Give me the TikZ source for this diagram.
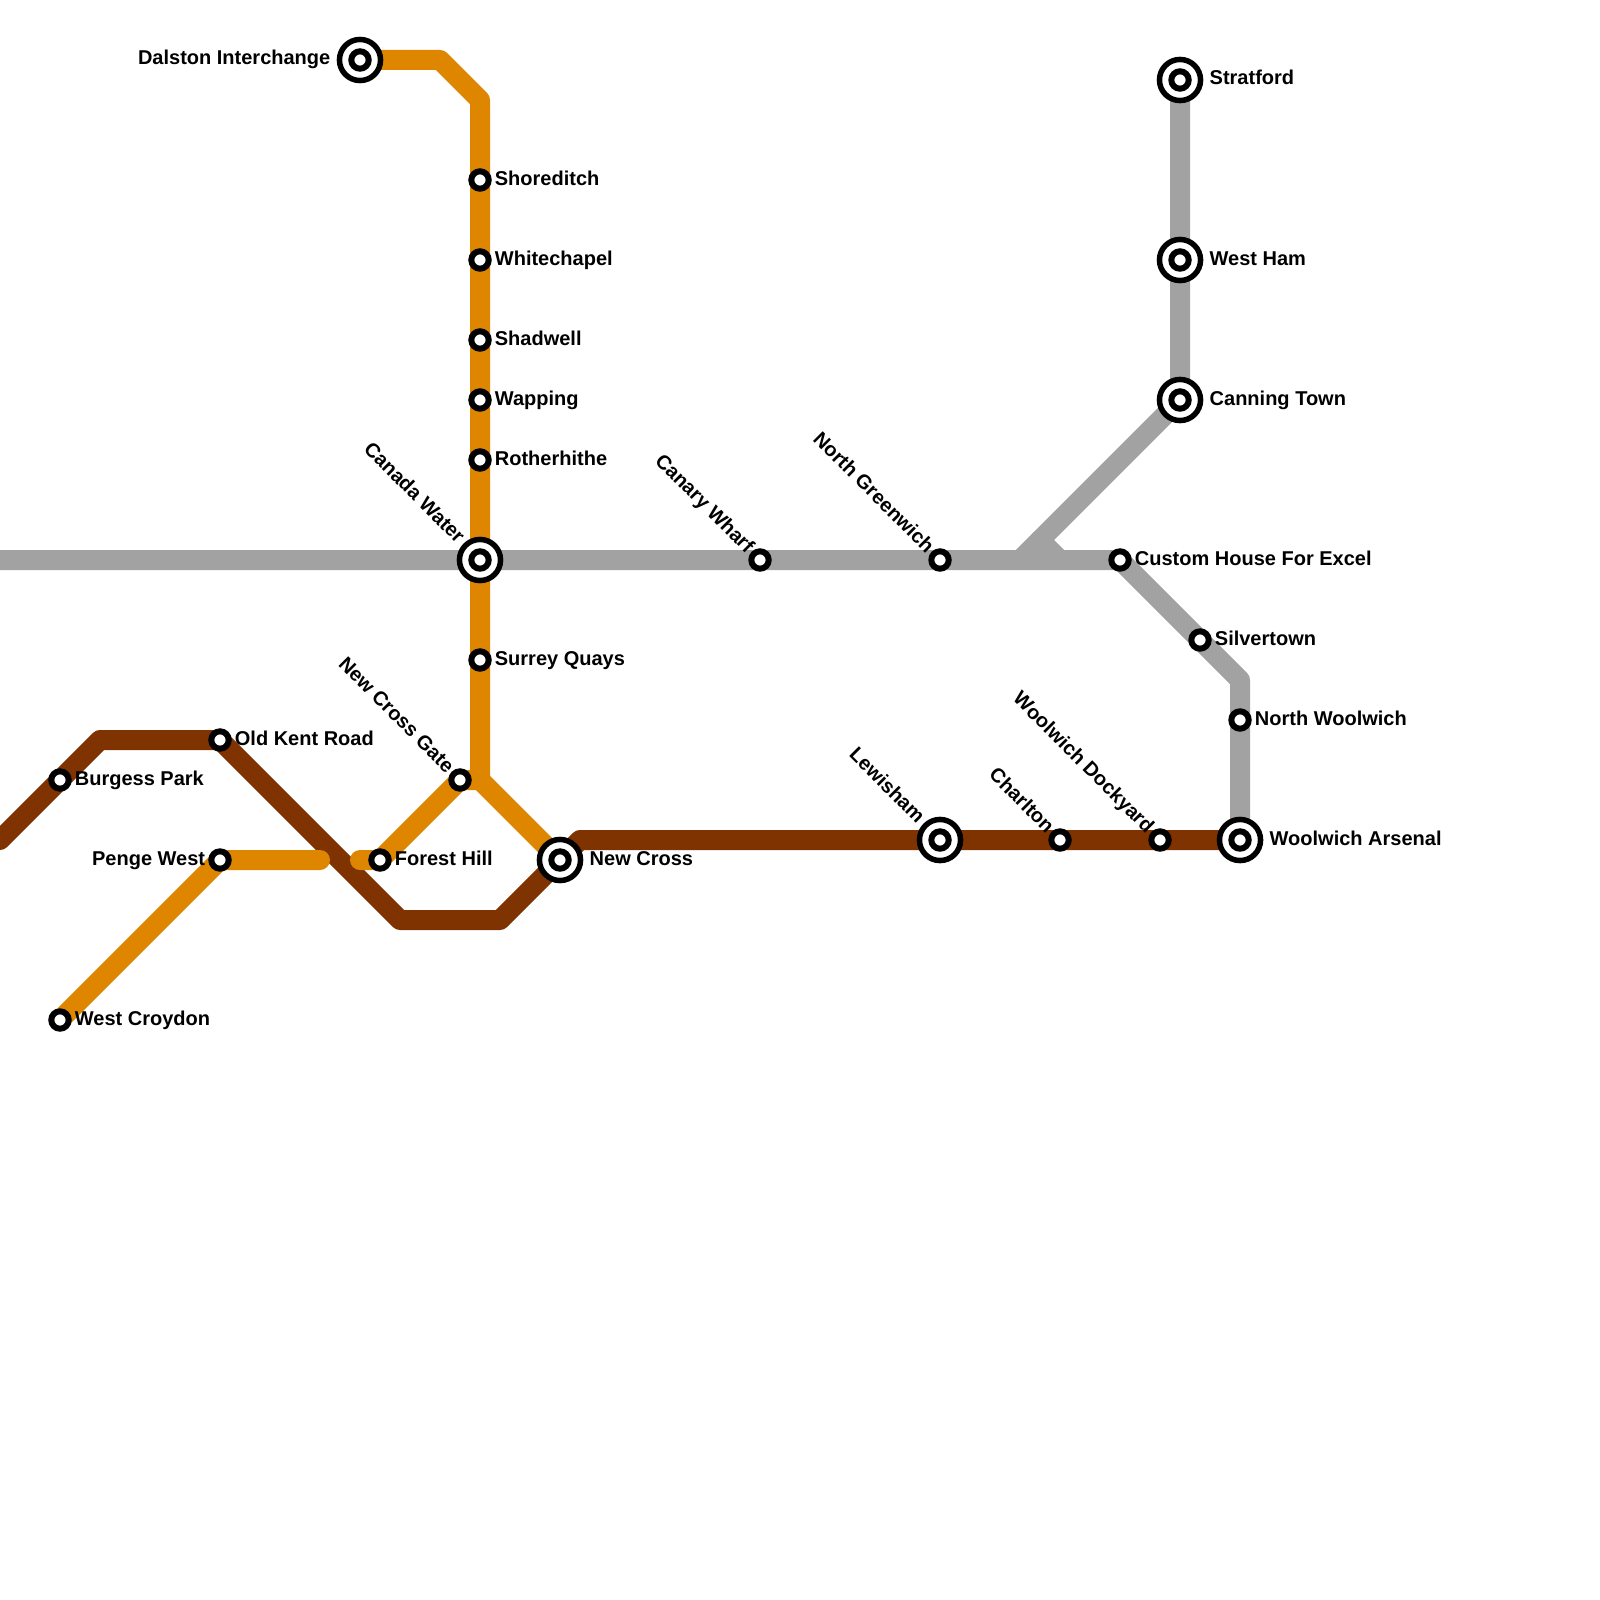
\documentclass[tikz,border=0pt]{standalone}
\usepackage{fontspec}
\setmainfont{Liberation Sans}
\usetikzlibrary{positioning, backgrounds}
\definecolor{lineOrange}{RGB}{223, 134, 0}
\definecolor{lineBrown}{RGB}{126, 51, 0}
\definecolor{lineGrey}{RGB}{162, 162, 162}
\tikzset{
  stn/.style={
    circle, draw=black, fill=white, line width=6pt,
    minimum size=17.4pt, inner sep=0pt
  },
  hub/.style={
    circle, draw=black, fill=white, line width=5.5pt,
    minimum size=41.1pt, inner sep=0pt
  },
  stnlabel/.style={
    inner sep=0pt, font=\fontsize{20}{24}\selectfont\bfseries,
    text height=14.5pt, text depth=4.5pt
  },
  tiltlabel/.style={stnlabel, rotate=-45, anchor=east},
  track/.style={line width=20pt, line join=round, line cap=round}
}

\begin{document}
\begin{tikzpicture}[x=20pt, y=-20pt]

\clip (0,0) rectangle (80,80);

%% INTERCHANGES
\node[hub] (dalstonhub) at (18,3) {};
\node[hub] (stratfordhub) at (59,4) {};
\node[hub] (westhamhub) at (59,13) {};
\node[hub] (canninghub) at (59,20) {};
\node[hub] (canadahub) at (24,28) {};
\node[hub] (newcrosshub) at (28,43) {};
\node[hub] (lewishamhub) at (47,42) {};
\node[hub] (arsenalhub) at (62,42) {};

%% STATIONS
\node[stn] (dalston) at (18,3) {};
\node[stn] (stratford) at (59,4) {};
\node[stn] (shoreditch) at (24,9) {};
\node[stn] (whitechapel) at (24,13) {};
\node[stn] (westham) at (59,13) {};
\node[stn] (shadwell) at (24,17) {};
\node[stn] (wapping) at (24,20) {};
\node[stn] (canning) at (59,20) {};
\node[stn] (rotherhithe) at (24,23) {};
\node[stn] (canada) at (24,28) {};
\node[stn] (canary) at (38,28) {};
\node[stn] (greenwich) at (47,28) {};
\node[stn] (custom) at (56,28) {};
\node[stn] (silvertown) at (60,32) {};
\node[stn] (surrey) at (24,33) {};
\node[stn] (northwoolwich) at (62,36) {};
\node[stn] (oldkent) at (11,37) {};
\node[stn] (burgess) at (3,39) {};
\node[stn] (crossgate) at (23,39) {};
\node[stn] (lewisham) at (47,42) {};
\node[stn] (charlton) at (53,42) {};
\node[stn] (dockyard) at (58,42) {};
\node[stn] (arsenal) at (62,42) {};
\node[stn] (penge) at (11,43) {};
\node[stn] (foresthill) at (19,43) {};
\node[stn] (newcross) at (28,43) {};
\node[stn] (croydon) at (3,51) {};

%% LABELS
\node[stnlabel, left=6.2pt of dalstonhub] (dalstonlabel) {Dalston Interchange};
\node[stnlabel, right=6.2pt of stratfordhub] (stratfordlabel) {Stratford};
\node[stnlabel, right=6.2pt of westhamhub] (westhamlabel) {West Ham};
\node[stnlabel, right=6.2pt of canninghub] (canninglabel) {Canning Town};
\node[stnlabel, right=6.2pt of newcrosshub] (newcrosslabel) {New Cross};
\node[stnlabel, right=6.2pt of arsenalhub] (arsenallabel) {Woolwich Arsenal};
\node[stnlabel, right=3pt of shoreditch] (shoreditchlabel) {Shoreditch};
\node[stnlabel, right=3pt of whitechapel] (whitechapellabel) {Whitechapel};
\node[stnlabel, right=3pt of shadwell] (shadwelllabel) {Shadwell};
\node[stnlabel, right=3pt of wapping] (wappinglabel) {Wapping};
\node[stnlabel, right=3pt of rotherhithe] (rotherhithelabel) {Rotherhithe};
\node[stnlabel, right=3pt of custom] (customlabel) {Custom House For Excel};
\node[stnlabel, right=3pt of silvertown] (silvertownlabel) {Silvertown};
\node[stnlabel, right=3pt of surrey] (surreylabel) {Surrey Quays};
\node[stnlabel, right=3pt of northwoolwich] (northwoolwichlabel) {North Woolwich};
\node[stnlabel, right=3pt of oldkent] (oldkentlabel) {Old Kent Road};
\node[stnlabel, right=3pt of burgess] (burgesslabel) {Burgess Park};
\node[stnlabel, right=3pt of foresthill] (foresthilllabel) {Forest Hill};
\node[stnlabel, right=3pt of croydon] (croydonlabel) {West Croydon};
\node[stnlabel, left=3pt of penge] (pengelabel) {Penge West};
\node[tiltlabel] (canadalabel) at ([shift={(-19.7pt,19.3pt)}]canadahub.center) {Canada Water};
\node[tiltlabel] (crossgatelabel) at ([shift={(-10.2pt,9.3pt)}]crossgate.center) {New Cross Gate};
\node[tiltlabel] (canarylabel) at ([shift={(-10.2pt,9.3pt)}]canary.center) {Canary Wharf};
\node[tiltlabel] (greenwichlabel) at ([shift={(-10.2pt,9.3pt)}]greenwich.center) {North Greenwich};
\node[tiltlabel] (lewishamlabel) at ([shift={(-19.7pt,19.3pt)}]lewishamhub.center) {Lewisham};
\node[tiltlabel] (charltonlabel) at ([shift={(-10.2pt,9.3pt)}]charlton.center) {Charlton};
\node[tiltlabel] (dockyardlabel) at ([shift={(-10.2pt,9.3pt)}]dockyard.center) {Woolwich Dockyard};

%% BENDS
\coordinate (brownstart) at (0,42);
\coordinate (brownA) at (5,37);
\coordinate (brownB) at (20,46);
\coordinate (brownC) at (25,46);
\coordinate (brownD) at (29,42);
\coordinate (orangeA) at (22,3);
\coordinate (orangeB) at (24,5);
\coordinate (orangeC) at (24,39);
\coordinate (orangeD) at (18,43);
\coordinate (orangeE) at (16,43);
\coordinate (greystart) at (0,28);
\coordinate (greyA) at (51,28);
\coordinate (greyB) at (52,27);
\coordinate (greyC) at (53,28);
\coordinate (greyD) at (62,34);

%% LINES
\begin{scope}[on background layer]
  \draw[track, lineBrown] (brownstart) -- (burgess.center) -- (brownA) -- (oldkent.center)
    -- (brownB) -- (brownC) -- (newcross.center) -- (brownD) -- (lewisham.center)
    -- (charlton.center) -- (dockyard.center) -- (arsenal.center);
  \draw[track, lineGrey] (greystart) -- (canada.center) -- (canary.center) -- (greenwich.center)
    -- (custom.center) -- (silvertown.center) -- (greyD) -- (northwoolwich.center) -- (arsenal.center);
  \draw[track, lineGrey] (greyA) -- (canning.center) -- (westham.center) -- (stratford.center);
  \draw[track, lineGrey] (greyB) -- (greyC);
  \draw[track, lineOrange] (dalston.center) -- (orangeA) -- (orangeB) -- (shoreditch.center)
    -- (orangeC) -- (newcross.center);
  \draw[track, lineOrange] (orangeC) -- (crossgate.center) -- (foresthill.center) -- (orangeD);
  \draw[track, lineOrange] (croydon.center) -- (penge.center) -- (orangeE);
\end{scope}

\end{tikzpicture}
\end{document}
